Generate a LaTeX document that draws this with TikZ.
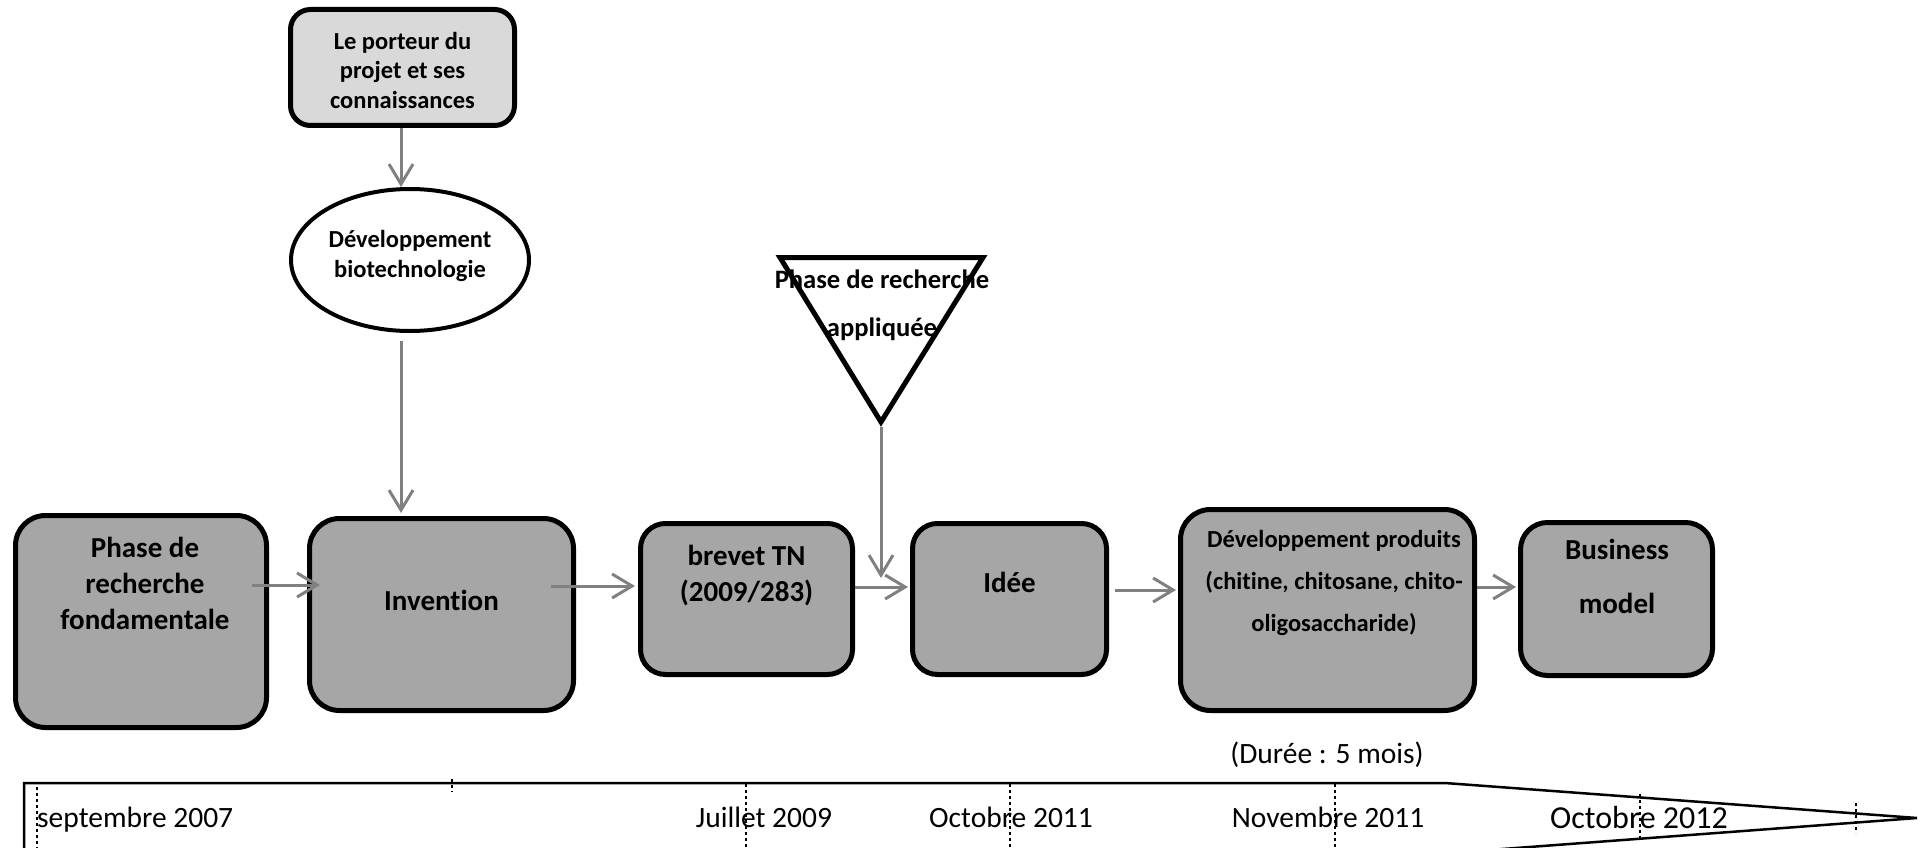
\documentclass[tikz,border=0pt]{standalone}
\usepackage{fontspec}
\setmainfont{Carlito}[RawFeature={-liga}]
\usetikzlibrary{arrows.meta,shapes.geometric,calc}
\definecolor{boxgray}{HTML}{A6A6A6}
\definecolor{lightbox}{HTML}{D9D9D9}
\definecolor{arrgray}{HTML}{808080}
\begin{document}
\begin{tikzpicture}[x=1pt,y=-1pt,
  box/.style={draw=black,line width=5pt,fill=boxgray,rounded corners=28pt,inner sep=0pt},
  arr/.style={draw=arrgray,line width=3pt,-{Straight Barb[length=20pt,width=24pt]}},
  btxt/.style={font=\bfseries\fontsize{29pt}{36pt}\selectfont,align=center,inner sep=0pt},
  stxt/.style={font=\bfseries\fontsize{24.5pt}{29.5pt}\selectfont,align=center,inner sep=0pt},
  rtxt/.style={font=\fontsize{29.5pt}{34pt}\selectfont,inner sep=0pt,anchor=base},
  tick/.style={draw=black,line width=2pt,dash pattern=on 3pt off 3pt},
  tline/.style={draw=black,line width=2.5pt,line join=miter}]
\useasboundingbox (0,0) rectangle (1921,848);
\clip (0,0) rectangle (1921,848);

% timeline
\draw[tline] (24,783) -- (1445,783) -- (1917,818) -- (1449,853) -- (24,853) -- cycle;
\draw[tick] (37,787) -- (37,848);
\draw[tick] (452,779) -- (452,792);
\draw[tick] (746,784) -- (746,848);
\draw[tick] (1010,784) -- (1010,848);
\draw[tick] (1335,784) -- (1335,848);
\draw[tick] (1640,794) -- (1640,841);
\draw[tick] (1856,803) -- (1856,833);
\node[rtxt,anchor=base west] (t1) at (37,827) {septembre 2007};
\node[rtxt] (t2) at (764,827) {Juillet 2009};
\node[rtxt] (t3) at (1011,827) {Octobre 2011};
\node[rtxt] (t4) at (1328,827) {Novembre 2011};
\node[rtxt,font=\fontsize{32pt}{36pt}\selectfont] (t5) at (1639,828) {Octobre 2012};
\node[rtxt] (duree) at (1327,763) {(Durée : 5 mois)};

% top box and ellipse
\node[box,fill=lightbox,rounded corners=20pt,minimum width=224pt,minimum height=116pt] (porteur) at (402.5,67.5) {};
\node[stxt] (porteurT) at (402.5,70) {Le porteur du\\projet et ses\\connaissances};
\node[draw=black,line width=4pt,fill=white,ellipse,minimum width=238pt,minimum height=142pt,inner sep=0pt] (ell) at (410,260) {};
\node[stxt,font=\bfseries\fontsize{24.5pt}{30pt}\selectfont] (ellT) at (410,256) {Développement\\biotechnologie};

% triangle
\draw[draw=black,line width=5pt,line join=miter] (780,257.5) -- (983,257.5) -- (881,422) -- cycle;
\coordinate (apex) at (881,427);
\node[stxt,font=\bfseries\fontsize{26.6pt}{48pt}\selectfont] (triT) at (882,305) {Phase de recherche\\appliquée};

% main boxes
\node[box,rounded corners=30pt,minimum width=251pt,minimum height=212pt] (phase) at (141,621.5) {};
\node[btxt] (phaseT) at (145,583) {Phase de\\recherche\\fondamentale};
\node[box,rounded corners=30pt,minimum width=264pt,minimum height=192pt] (inv) at (441.5,614.5) {};
\node[btxt,anchor=base] (invT) at (441.5,610) {Invention};
\node[box,rounded corners=25pt,minimum width=212pt,minimum height=151pt] (brevet) at (746.5,599) {};
\node[btxt,font=\bfseries\fontsize{29pt}{36pt}\selectfont] (brevetT) at (746.5,576) {brevet TN\\(2009/283)};
\node[box,rounded corners=25pt,minimum width=194pt,minimum height=151pt] (idee) at (1009.5,599) {};
\node[btxt,anchor=base] (ideeT) at (1009.5,592) {Idée};
\node[box,rounded corners=30pt,minimum width=294pt,minimum height=201pt] (dev) at (1327.5,610) {};
\node[stxt,font=\bfseries\fontsize{24.5pt}{42pt}\selectfont] (devT) at (1334,582.5) {Développement produits\\(chitine, chitosane, chito-\\oligosaccharide)};
\node[box,rounded corners=27pt,minimum width=192pt,minimum height=153pt] (bm) at (1616.5,599) {};
\node[btxt,font=\bfseries\fontsize{29pt}{54pt}\selectfont] (bmT) at (1617,576) {Business\\model};

% connectors
\coordinate (a1) at ([shift={(-1.5,0)}]porteur.south);
\draw[arr] (a1) -- (a1 |- ell.north);
\coordinate (b1) at ([shift={(-9,8)}]ell.south);
\draw[arr] (b1) -- ([shift={(0,-3)}]b1 |- inv.north);
\draw[arr] ([shift={(-17,-36.5)}]phase.east) -- ([shift={(13,-29.5)}]inv.west);
\draw[arr] ([shift={(-25,-28.5)}]inv.east) -- ([shift={(-3,-13)}]brevet.west);
\draw[arr] ([shift={(0,-12)}]brevet.east) -- ([shift={(-2,-12)}]idee.west);
\coordinate (c1) at ([shift={(0,-21)}]idee.west);
\draw[arr] (apex) -- (apex |- c1);
\draw[arr] ([shift={(6,-9)}]idee.east) -- ([shift={(-2,-20)}]dev.west);
\draw[arr] ([shift={(0,-23)}]dev.east) -- ([shift={(-2,-12)}]bm.west);
\end{tikzpicture}
\end{document}
